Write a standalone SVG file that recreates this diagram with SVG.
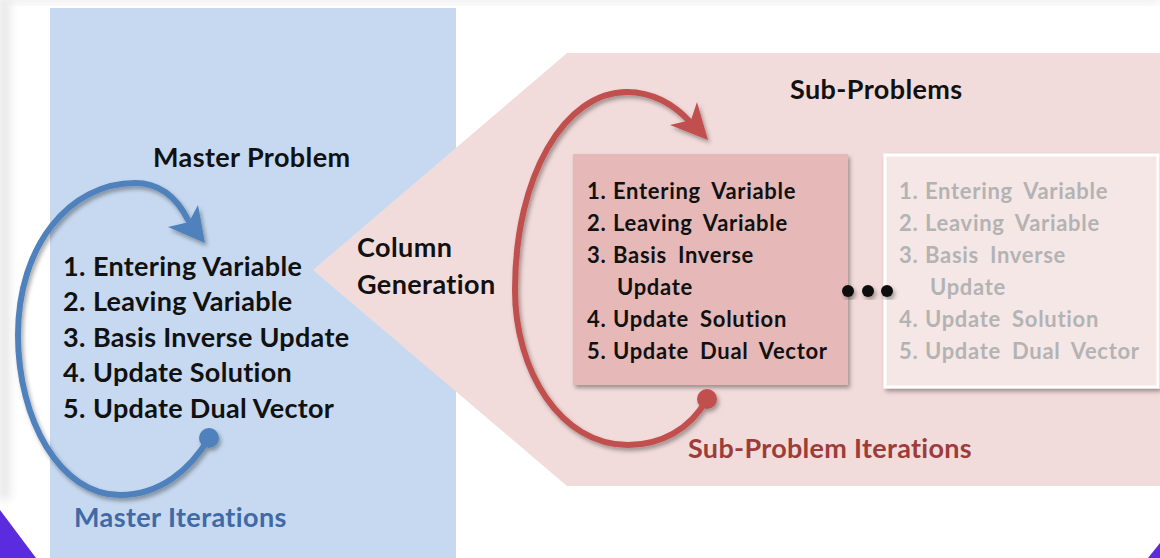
<svg xmlns="http://www.w3.org/2000/svg" width="1160" height="558" viewBox="0 0 1160 558">
  <style>
    .t { font-family: Lato, "Open Sans", sans-serif; font-weight: bold; }
    .head { font-size: 27px; fill: #111; letter-spacing: 0.4px; }
    .mlist { font-size: 27px; fill: #111; letter-spacing: 0.3px; }
    .slist { font-size: 22px; fill: #111; letter-spacing: 0.7px; word-spacing: 5px; }
    .glist { font-size: 22px; fill: #b3b3b3; letter-spacing: 0.7px; word-spacing: 5px; }
    .loop { fill: none; stroke-width: 6; stroke-linecap: round; }
  </style>
  <defs>
    <filter id="shadow" x="-10%" y="-10%" width="130%" height="130%">
      <feDropShadow dx="2" dy="3" stdDeviation="2" flood-color="#000" flood-opacity="0.35"/>
    </filter>
    <filter id="soft" x="-20%" y="-20%" width="140%" height="140%">
      <feGaussianBlur stdDeviation="4"/>
    </filter>
    <linearGradient id="edge" x1="0" y1="0" x2="1" y2="0">
      <stop offset="0" stop-color="#d9d9d9"/>
      <stop offset="1" stop-color="#ffffff"/>
    </linearGradient>
  </defs>

  <!-- page background -->
  <rect x="0" y="0" width="1160" height="558" fill="#ffffff"/>
  <rect x="0" y="0" width="14" height="500" fill="url(#edge)" filter="url(#soft)"/>
  <rect x="0" y="-6" width="1160" height="10" fill="#e6e6e6" filter="url(#soft)" opacity="0.6"/>
  <polygon points="0,510 0,558 36,558" fill="#5b2be0"/>
  <polygon points="1148,558 1160,543 1160,558" fill="#5b2be0"/>

  <!-- master panel -->
  <g id="master-panel">
    <rect x="50" y="8" width="406" height="550" fill="#c6d9f0"/>
  </g>

  <!-- sub-problem panel -->
  <g id="subproblem-panel">
    <polygon points="313,270 567,53 1160,53 1160,486 567,486" fill="#f2dcdb"/>
  </g>

  <g id="master-title">
    <text class="t head" x="153" y="167">Master Problem</text>
  </g>

  <g id="master-steps">
    <text class="t mlist" y="276"><tspan x="63">1.</tspan><tspan x="93">Entering Variable</tspan></text>
    <text class="t mlist" y="311"><tspan x="63">2.</tspan><tspan x="93">Leaving Variable</tspan></text>
    <text class="t mlist" y="347"><tspan x="63">3.</tspan><tspan x="93">Basis Inverse Update</tspan></text>
    <text class="t mlist" y="382"><tspan x="63">4.</tspan><tspan x="93">Update Solution</tspan></text>
    <text class="t mlist" y="418"><tspan x="63">5.</tspan><tspan x="93">Update Dual Vector</tspan></text>
  </g>

  <g id="column-generation">
    <text class="t head" x="357" y="257">Column</text>
    <text class="t head" x="357" y="294">Generation</text>
  </g>

  <g id="subproblems-title">
    <text class="t head" x="790" y="99">Sub-Problems</text>
  </g>

  <g id="subproblem-box">
    <rect x="573" y="154" width="275" height="231" fill="#e6b9b8" filter="url(#shadow)"/>
    <text class="t slist" y="199"><tspan x="587">1.</tspan><tspan x="613">Entering Variable</tspan></text>
    <text class="t slist" y="231"><tspan x="587">2.</tspan><tspan x="613">Leaving Variable</tspan></text>
    <text class="t slist" y="263"><tspan x="587">3.</tspan><tspan x="613">Basis Inverse</tspan></text>
    <text class="t slist" x="617" y="295">Update</text>
    <text class="t slist" y="327"><tspan x="587">4.</tspan><tspan x="613">Update Solution</tspan></text>
    <text class="t slist" y="359"><tspan x="587">5.</tspan><tspan x="613">Update Dual Vector</tspan></text>
  </g>

  <g id="subproblem-box-faded">
    <rect x="885" y="155" width="273" height="232" fill="#f6e7e7" stroke="#ffffff" stroke-width="3" filter="url(#shadow)"/>
    <text class="t glist" y="199"><tspan x="899">1.</tspan><tspan x="925">Entering Variable</tspan></text>
    <text class="t glist" y="231"><tspan x="899">2.</tspan><tspan x="925">Leaving Variable</tspan></text>
    <text class="t glist" y="263"><tspan x="899">3.</tspan><tspan x="925">Basis Inverse</tspan></text>
    <text class="t glist" x="930" y="295">Update</text>
    <text class="t glist" y="327"><tspan x="899">4.</tspan><tspan x="925">Update Solution</tspan></text>
    <text class="t glist" y="359"><tspan x="899">5.</tspan><tspan x="925">Update Dual Vector</tspan></text>
  </g>

  <g id="ellipsis" fill="#111" filter="url(#shadow)">
    <circle cx="848" cy="291" r="6"/>
    <circle cx="868" cy="291" r="6"/>
    <circle cx="887" cy="291" r="6"/>
  </g>

  <!-- iteration loops -->
  <g id="connectors">
    <g id="master-loop" filter="url(#shadow)">
      <path class="loop" stroke="#4f81bd" d="M 209 438 C 190 470 160 495 120 495 C 60 495 18 420 18 335 C 18 245 70 183 135 183 C 158 183 176 196 188 220"/>
      <circle cx="209" cy="438" r="10" fill="#4f81bd"/>
      <polygon points="205,243 168,227 189,222 198,205" fill="#4f81bd"/>
    </g>
    <g id="subproblem-loop" filter="url(#shadow)">
      <path class="loop" stroke="#c0504d" d="M 707 399 C 690 430 660 445 628 445 C 560 445 515 370 515 290 C 515 175 565 92 627 92 C 652 92 674 104 690 122"/>
      <circle cx="707" cy="399" r="10" fill="#c0504d"/>
      <polygon points="708,140 670,125 691,120 697,102" fill="#c0504d"/>
    </g>
  </g>

  <g id="master-iterations-label">
    <text class="t" x="74" y="527" font-size="27" letter-spacing="0.4" fill="#3f6aa5">Master Iterations</text>
  </g>
  <g id="subproblem-iterations-label">
    <text class="t" x="688" y="458" font-size="27" letter-spacing="0.3" fill="#9c3d3a">Sub-Problem Iterations</text>
  </g>
</svg>
